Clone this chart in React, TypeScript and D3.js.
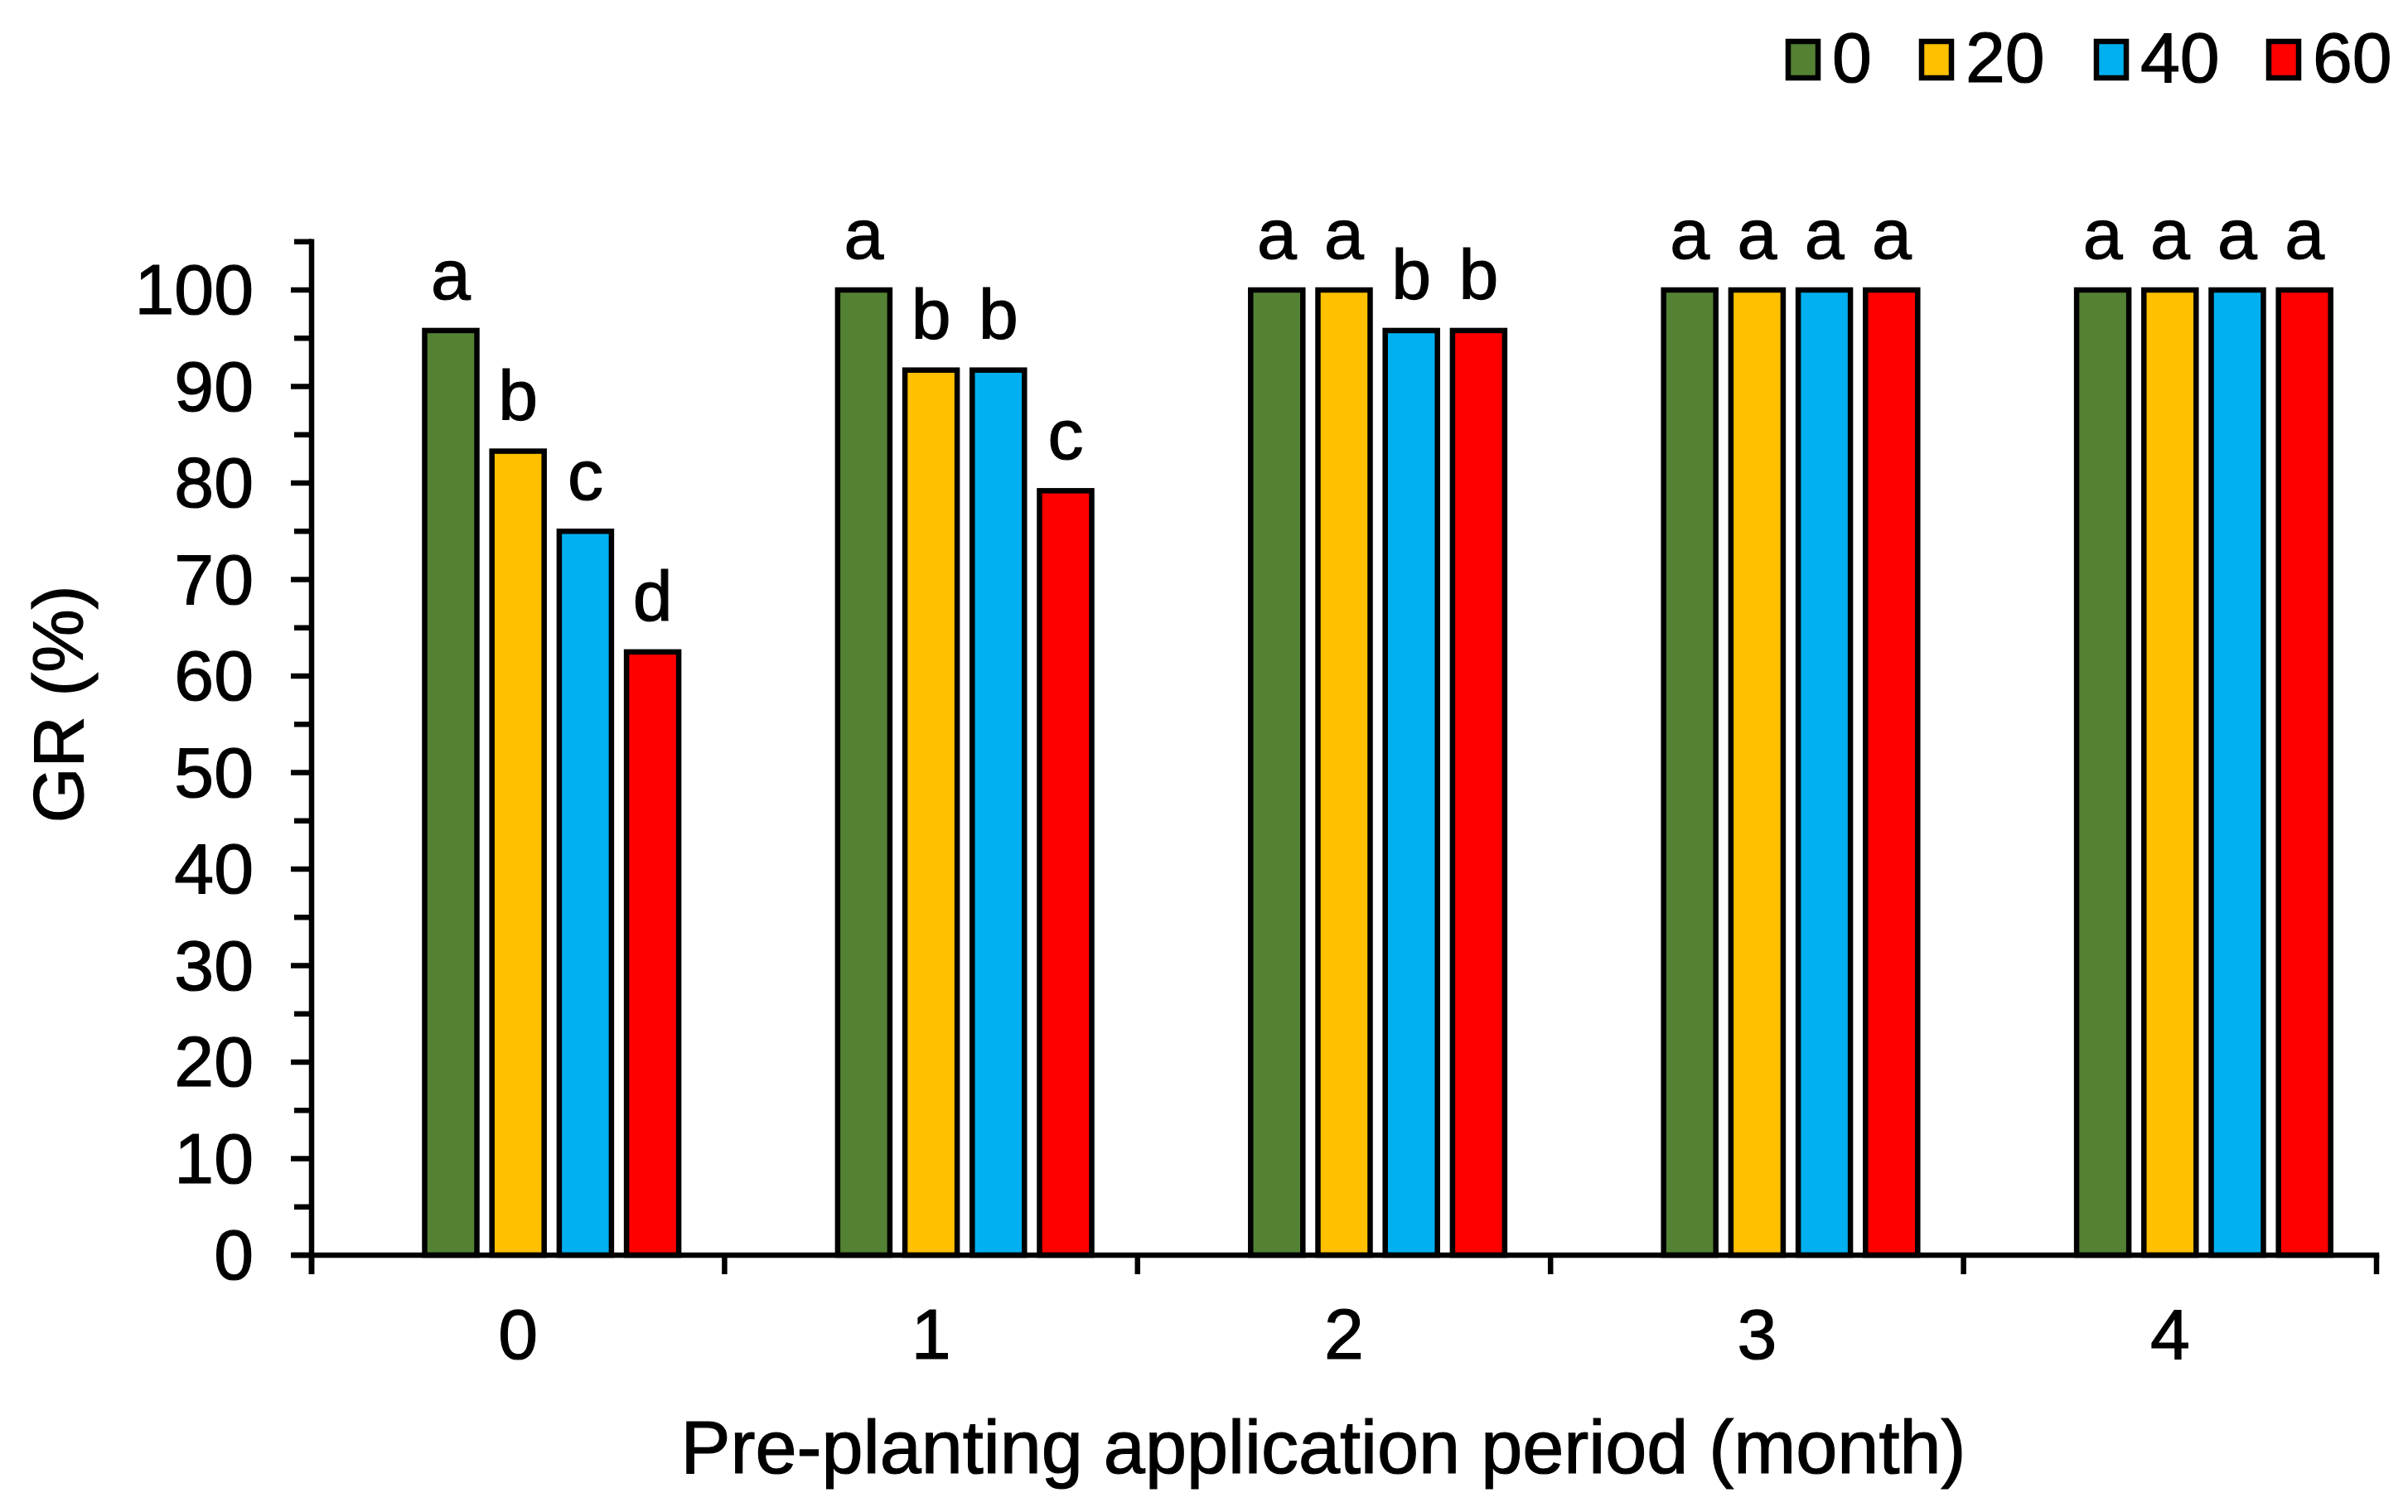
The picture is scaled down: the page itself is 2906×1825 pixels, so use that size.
import React from "react";
import * as d3 from "d3";

// ---- data ----
const periods = ["0", "1", "2", "3", "4"];
const rates = ["0", "20", "40", "60"];
const rate0 = [95.8, 100, 100, 100, 100];
const rate20 = [83.3, 91.7, 100, 100, 100];
const rate40 = [75, 91.7, 95.8, 100, 100];
const rate60 = [62.5, 79.2, 95.8, 100, 100];
const letters0 = ["a", "a", "a", "a", "a"];
const letters20 = ["b", "b", "a", "a", "a"];
const letters40 = ["c", "b", "b", "a", "a"];
const letters60 = ["d", "c", "b", "a", "a"];
const yTicksMajor = [0, 10, 20, 30, 40, 50, 60, 70, 80, 90, 100];
const yTicksMinor = [5, 15, 25, 35, 45, 55, 65, 75, 85, 95, 105];
const xTitle = "Pre-planting application period (month)";
const yTitle = "GR (%)";

const seriesValues = [rate0, rate20, rate40, rate60];
const seriesLetters = [letters0, letters20, letters40, letters60];
const colors = ["#548235", "#FFC000", "#00B0F0", "#FF0000"];

const W = 2906;
const H = 1825;
const FONT = "'Liberation Sans', Arial, sans-serif";
const TXT = { fontFamily: FONT, fill: "#000", stroke: "#000", strokeWidth: 1.2 } as const;

export default function App() {
  const x0 = d3.scaleBand<string>().domain(periods).range([376, 2868]).padding(0);
  // Excel cluster has an empty leading slot
  const slots = ["__empty", ...rates];
  const x1 = d3
    .scaleBand<string>()
    .domain(slots)
    .range([0, x0.bandwidth()])
    .paddingInner(0.224)
    .paddingOuter(0.681);
  const y = d3.scaleLinear().domain([0, 105]).range([1515, 1515 - 105 * 11.65]);

  const axisX = 376;
  const axisY = y(0);
  const stroke = 6.5;

  const xTickPositions = [...periods.map((p) => x0(p) as number), 2868];

  return (
    <div style={{ position: "absolute", left: 0, top: 0 }}>
      <svg width={W} height={H} viewBox={`0 0 ${W} ${H}`} style={{ display: "block", background: "#fff" }}>
        <rect x={0} y={0} width={W} height={H} fill="#fff" />
        {/* bars */}
        {seriesValues.map((vals, si) =>
          periods.map((p, pi) => {
            const bx = (x0(p) as number) + (x1(rates[si]) as number);
            const by = y(vals[pi]);
            return (
              <rect
                key={`b-${si}-${pi}`}
                x={bx}
                y={by}
                width={x1.bandwidth()}
                height={axisY - by}
                fill={colors[si]}
                stroke="#000"
                strokeWidth={stroke}
              />
            );
          })
        )}
        {/* letters */}
        {seriesLetters.map((ls, si) =>
          periods.map((p, pi) => {
            const cx = (x0(p) as number) + (x1(rates[si]) as number) + x1.bandwidth() / 2;
            return (
              <text
                key={`l-${si}-${pi}`}
                x={cx}
                y={y(seriesValues[si][pi]) - 38}
                textAnchor="middle"
                fontSize={86}
                {...TXT}
              >
                {ls[pi]}
              </text>
            );
          })
        )}
        {/* y axis */}
        <line x1={axisX} x2={axisX} y1={y(105) - stroke / 2} y2={axisY + 23} stroke="#000" strokeWidth={stroke} />
        {yTicksMajor.map((t) => (
          <line key={`ym-${t}`} x1={axisX - 25} x2={axisX} y1={y(t)} y2={y(t)} stroke="#000" strokeWidth={stroke} />
        ))}
        {yTicksMinor.map((t) => (
          <line key={`yn-${t}`} x1={axisX - 21} x2={axisX} y1={y(t)} y2={y(t)} stroke="#000" strokeWidth={stroke} />
        ))}
        {yTicksMajor.map((t) => (
          <text key={`yl-${t}`} x={306} y={y(t)} dy="0.34em" textAnchor="end" fontSize={86} {...TXT}>
            {t}
          </text>
        ))}
        {/* x axis */}
        <line x1={axisX - 24} x2={2868 + stroke / 2} y1={axisY} y2={axisY} stroke="#000" strokeWidth={stroke} />
        {xTickPositions.map((px, i) => (
          <line key={`xt-${i}`} x1={px} x2={px} y1={axisY} y2={axisY + 23} stroke="#000" strokeWidth={stroke} />
        ))}
        {periods.map((p) => (
          <text
            key={`xl-${p}`}
            x={(x0(p) as number) + x0.bandwidth() / 2}
            y={1640}
            textAnchor="middle"
            fontSize={86}
            {...TXT}
          >
            {p}
          </text>
        ))}
        {/* titles */}
        <text x={1597} y={1778} textAnchor="middle" fontSize={90} {...TXT}>
          {xTitle}
        </text>
        <text transform={`translate(100,850) rotate(-90)`} textAnchor="middle" fontSize={86} {...TXT}>
          {yTitle}
        </text>
        {/* legend */}
        {rates.map((r, i) => {
          const sqX = [2155, 2316, 2527, 2735][i];
          return (
            <g key={`lg-${r}`}>
              <rect x={sqX + 3} y={50} width={36} height={44} fill={colors[i]} stroke="#000" strokeWidth={stroke} />
              <text x={sqX + 56} y={99} fontSize={86} {...TXT}>
                {r}
              </text>
            </g>
          );
        })}
      </svg>
    </div>
  );
}
